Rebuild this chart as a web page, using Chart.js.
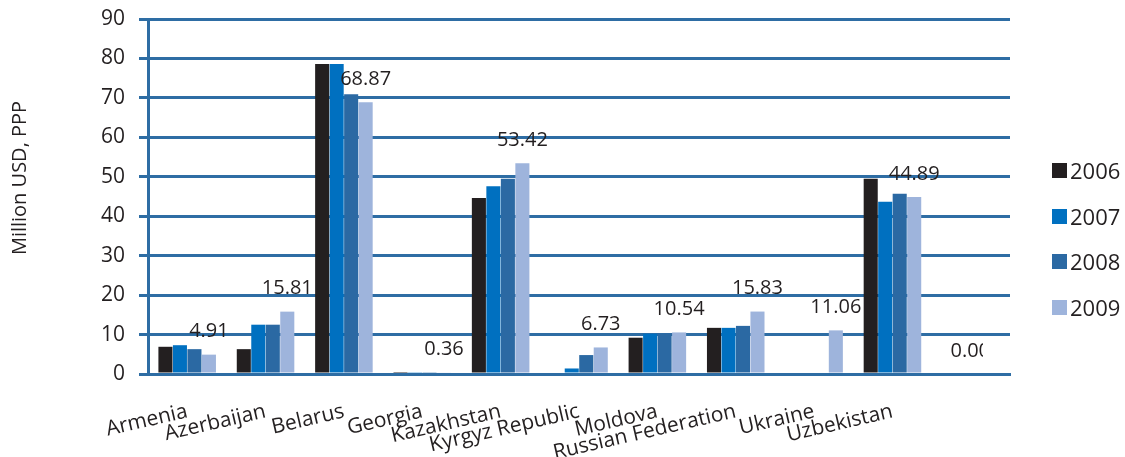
<!DOCTYPE html>
<html>
<head>
<meta charset="utf-8">
<script src="https://cdn.jsdelivr.net/npm/chart.js@4"></script>
<style>
  html, body { margin: 0; padding: 0; background: #fff; }
  #wrap { position: relative; width: 1125px; height: 457px; }
  #legend { position: absolute; left: 1052px; top: 162px; font-family: "Open Sans", sans-serif; font-size: 22px; color: #231F20; }
  .li { position: relative; height: 45.5px; }
  .sw { position: absolute; left: 0; top: 1px; width: 15px; height: 15px; }
  .lt { position: absolute; left: 18px; top: -7px; line-height: 30px; }
</style>
</head>
<body>
<div id="wrap">
  <canvas id="c" width="1125" height="457"></canvas>
  <div id="legend"></div>
</div>
<script>
const categories = ['Armenia', 'Azerbaijan', 'Belarus', 'Georgia', 'Kazakhstan', 'Kyrgyz Republic', 'Moldova', 'Russian Federation', 'Ukraine', 'Uzbekistan', ''];
const years = ['2006', '2007', '2008', '2009'];
const values2006 = [6.9, 6.3, 78.6, 0.5, 44.6, null, 9.2, 11.7, null, 49.5, null];
const values2007 = [7.3, 12.5, 78.6, 0.45, 47.6, 1.4, 10.2, 11.7, null, 43.7, null];
const values2008 = [6.3, 12.5, 70.9, 0.45, 49.5, 4.8, 10.2, 12.2, null, 45.7, null];
const values2009 = [4.91, 15.81, 68.87, 0.36, 53.42, 6.73, 10.54, 15.83, 11.06, 44.89, 0.00];
const yTicks = [0, 10, 20, 30, 40, 50, 60, 70, 80, 90];
const yTitle = 'Million USD, PPP';
const colors = ['#231F20', '#0070C0', '#2B69A3', '#9EB4DC'];

const seriesValues = [values2006, values2007, values2008, values2009];
const textColor = '#231F20';
const gridColor = '#2E6DA4';
const fontFamily = '"Open Sans", sans-serif';

// HTML legend
const lg = document.getElementById('legend');
years.forEach((y, i) => {
  const d = document.createElement('div'); d.className = 'li';
  const s = document.createElement('div'); s.className = 'sw'; s.style.background = colors[i];
  const t = document.createElement('div'); t.className = 'lt'; t.textContent = y;
  d.appendChild(s); d.appendChild(t); lg.appendChild(d);
});

const labelPlugin = {
  id: 'lbl',
  afterDatasetsDraw(chart) {
    const ctx = chart.ctx;
    const meta = chart.getDatasetMeta(3);
    const area = chart.chartArea;
    ctx.save();
    ctx.font = '20px ' + fontFamily;
    ctx.fillStyle = textColor;
    ctx.textAlign = 'center';
    ctx.textBaseline = 'middle';
    meta.data.forEach((bar, i) => {
      const v = values2009[i];
      if (v === null || v === undefined) return;
      const txt = v.toFixed(2);
      const w = ctx.measureText(txt).width;
      let x = bar.x;
      const limit = area.right - 20;
      let clip = false;
      if (x + w / 2 > limit) { x = limit - w / 2; clip = true; }
      const y = bar.y - 23;
      if (clip) {
        ctx.save();
        ctx.beginPath();
        ctx.rect(0, 0, area.right - 27, chart.height);
        ctx.clip();
        ctx.fillText(txt, x, y);
        ctx.restore();
      } else {
        ctx.fillText(txt, x, y);
      }
    });
    ctx.restore();
  }
};

const titlePlugin = {
  id: 'ytitle',
  afterDraw(chart) {
    const ctx = chart.ctx;
    ctx.save();
    ctx.translate(20, 178);
    ctx.rotate(-Math.PI / 2);
    ctx.font = '20px ' + fontFamily;
    ctx.fillStyle = textColor;
    ctx.textAlign = 'center';
    ctx.textBaseline = 'middle';
    ctx.fillText(yTitle, 0, 0);
    ctx.restore();
  }
};

new Chart(document.getElementById('c'), {
  type: 'bar',
  data: {
    labels: categories,
    datasets: years.map((y, i) => ({
      label: y,
      data: seriesValues[i],
      backgroundColor: colors[i],
      borderWidth: 0,
      categoryPercentage: 0.74,
      barPercentage: 0.97
    }))
  },
  options: {
    responsive: false,
    devicePixelRatio: 1,
    animation: false,
    layout: { padding: { top: 19, right: 115, bottom: 0, left: 0 } },
    plugins: { legend: { display: false }, tooltip: { enabled: false } },
    scales: {
      x: {
        grid: { display: false, drawTicks: false },
        border: { display: true, color: gridColor, width: 3 },
        ticks: {
          autoSkip: false, maxRotation: 13, minRotation: 13,
          padding: 25, color: textColor,
          font: { family: fontFamily, size: 21 }
        },
        afterFit(s) { s.height = 83; s.paddingLeft = 0; s.paddingRight = 0; }
      },
      y: {
        min: 0, max: 90,
        afterBuildTicks(s) { s.ticks = yTicks.map(v => ({ value: v })); },
        grid: { color: gridColor, lineWidth: 3, tickLength: 9, drawTicks: true },
        border: { display: true, color: gridColor, width: 3 },
        ticks: { color: textColor, padding: 14, font: { family: fontFamily, size: 21 } },
        afterFit(s) { s.width = 148; s.paddingTop = 0; s.paddingBottom = 0; }
      }
    }
  },
  plugins: [labelPlugin, titlePlugin]
});
</script>
</body>
</html>
